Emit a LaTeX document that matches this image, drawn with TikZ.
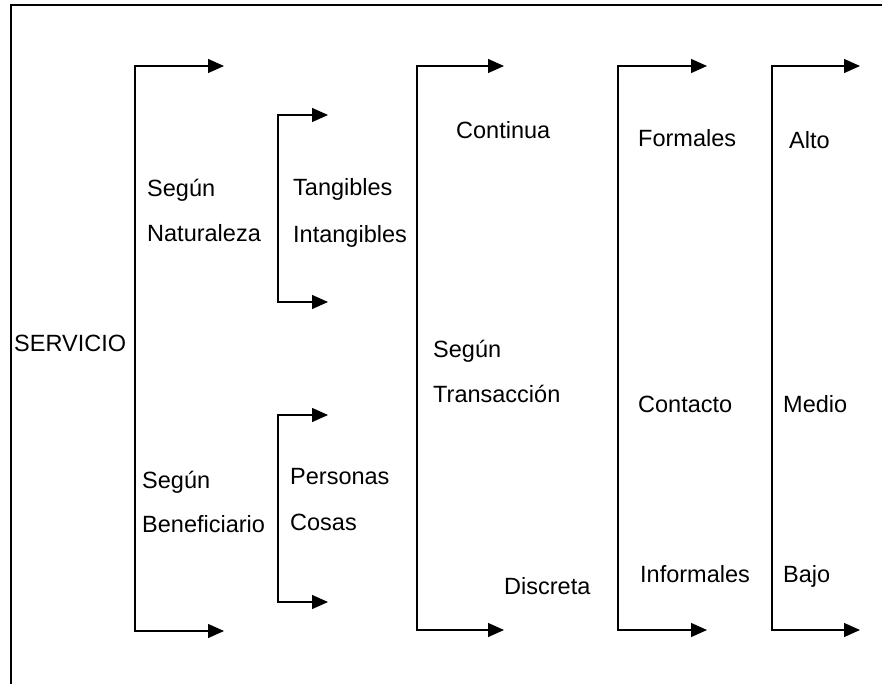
\documentclass[tikz,border=0pt]{standalone}
\usepackage{fontspec}
\setmainfont{Liberation Sans}
\usetikzlibrary{arrows.meta}

\tikzset{
  lbl/.style={anchor=base west, inner sep=0pt, font=\fontsize{23.5}{28}\selectfont},
  brace/.style={line width=1.3pt, {Triangle[length=16pt,width=14pt]}-{Triangle[length=16pt,width=14pt]}},
}

\begin{document}
\begin{tikzpicture}[x=1pt,y=-1pt]
            \useasboundingbox (0,0) rectangle (882,684);
            % Frame
            \draw[line width=2pt] (11,700) -- (11,5) -- (900,5);
            % Corners
            \coordinate (natA) at (135,66);   \coordinate (natB) at (135,631);
            \coordinate (tanA) at (278,115);  \coordinate (tanB) at (278,302);
            \coordinate (perA) at (278,415);  \coordinate (perB) at (278,602);
            \coordinate (traA) at (417,66);   \coordinate (traB) at (417,630);
            \coordinate (forA) at (618,66);   \coordinate (forB) at (618,630);
            \coordinate (altA) at (772,66);   \coordinate (altB) at (772,630);
            % Tips
            \coordinate (natAt) at (224,66);  \coordinate (natBt) at (224,631);
            \coordinate (tanAt) at (328,115); \coordinate (tanBt) at (328,302);
            \coordinate (perAt) at (328,415); \coordinate (perBt) at (328,602);
            \coordinate (traAt) at (504,66);  \coordinate (traBt) at (504,630);
            \coordinate (forAt) at (707,66);  \coordinate (forBt) at (707,630);
            \coordinate (altAt) at (860,66);  \coordinate (altBt) at (860,630);
            % Brackets
            \draw[brace] (natAt) -- (natA) -- (natB) -- (natBt);
            \draw[brace] (tanAt) -- (tanA) -- (tanB) -- (tanBt);
            \draw[brace] (perAt) -- (perA) -- (perB) -- (perBt);
            \draw[brace] (traAt) -- (traA) -- (traB) -- (traBt);
            \draw[brace] (forAt) -- (forA) -- (forB) -- (forBt);
            \draw[brace] (altAt) -- (altA) -- (altB) -- (altBt);
            % Labels
            \node[lbl] (serv) at (14,351) {SERVICIO};
            \node[lbl] (nat1) at (147,197) {Según};
            \node[lbl] (nat2) at (147,242) {Naturaleza};
            \node[lbl] (tan) at (293,196) {Tangibles};
            \node[lbl] (intan) at (293,243) {Intangibles};
            \node[lbl] (ben1) at (142,488) {Según};
            \node[lbl] (ben2) at (142,532) {Beneficiario};
            \node[lbl] (pers) at (290,484) {Personas};
            \node[lbl] (cosas) at (290,530) {Cosas};
            \node[lbl] (cont) at (456,139) {Continua};
            \node[lbl] (tra1) at (433,357) {Según};
            \node[lbl] (tra2) at (433,402) {Transacción};
            \node[lbl] (disc) at (504,594) {Discreta};
            \node[lbl] (form) at (638,147) {Formales};
            \node[lbl] (conta) at (638,412) {Contacto};
            \node[lbl] (inf) at (640,582) {Informales};
            \node[lbl] (alto) at (789,149) {Alto};
            \node[lbl] (medio) at (783,412) {Medio};
            \node[lbl] (bajo) at (783,582) {Bajo};
        \end{tikzpicture}
\end{document}
